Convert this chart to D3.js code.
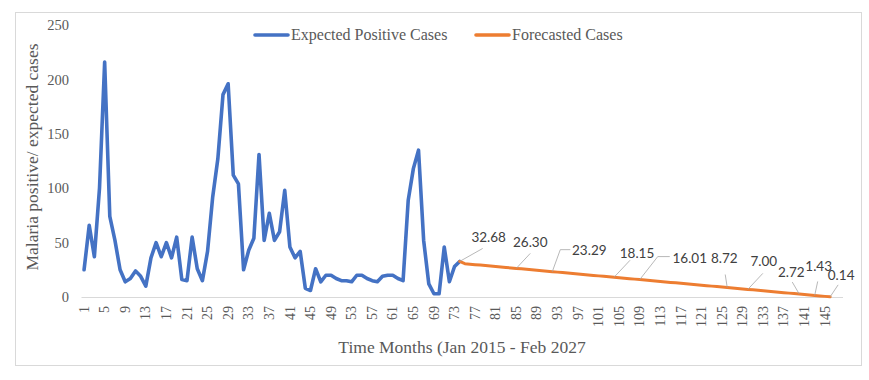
<!DOCTYPE html>
<html>
<head>
<meta charset="utf-8">
<script src="https://cdn.jsdelivr.net/npm/d3@7/dist/d3.min.js"></script>
<style>
  html, body { margin: 0; padding: 0; background: #fff; }
  svg { display: block; }
</style>
</head>
<body>
<svg id="chart" width="869" height="380"></svg>
<script>
// ---- DATA ----
const categories = d3.range(1, 149); // month index categories on the axis
const tickLabels = [1,5,9,13,17,21,25,29,33,37,41,45,49,53,57,61,65,69,73,77,81,85,89,93,97,101,105,109,113,117,121,125,129,133,137,141,145];
const yTicks = [0, 50, 100, 150, 200, 250];

const expectedStart = 1;
const expectedValues = [25,66,37,100,216,74,52,25,14,17,24,19,10,36,50,37,50,36,55,16,
  15,55,26,15,42,92,127,186,196,112,104,25,43,54,131,52,77,52,60,98,
  46,36,42,8,6,26,14,20,20,17,15,15,14,20,20,17,15,14,19,20,
  20,17,15,89,118,135,52,12,3,3,46,14,28,32.68];

const forecastStart = 74;
const forecastValues = [32.68,30.60,30.17,29.74,29.31,28.88,28.45,28.02,27.59,27.16,26.73,26.30,
  25.87,25.44,25.01,24.58,24.15,23.72,23.29,22.86,22.43,22.00,21.57,21.14,20.71,20.28,19.85,
  19.42,18.99,18.56,18.15,17.72,17.29,16.86,16.43,16.01,15.58,15.15,14.72,14.29,13.86,13.43,
  13.00,12.57,12.14,11.71,11.28,10.85,10.42,9.99,9.56,9.13,8.72,8.29,7.86,7.43,7.00,6.57,
  6.14,5.71,5.28,4.85,4.42,3.99,3.56,3.13,2.72,2.29,1.86,1.43,1.00,0.57,0.14];

const labelMonths = [74, 85, 92, 104, 109, 126, 130, 140, 143, 146];

const seriesNames = ["Expected Positive Cases", "Forecasted Cases"];
const xTitle = "Time Months (Jan 2015 - Feb 2027";
const yTitle = "Malaria positive/ expected cases";

// ---- STYLE / LAYOUT ----
const colors = ["#4472C4", "#ED7D31"];
const textColor = "#595959";
const serif = "'Liberation Serif', 'Times New Roman', serif";
const sans = "Lato, 'Liberation Sans', sans-serif";
// label placement offsets (text center relative to point) and leader path offsets
const labelStyle = {
  74:  {dx: 29, dy: -24, leader: [[23, -13]]},
  85:  {dx: 14, dy: -26, leader: [[14, -15]]},
  92:  {dx: 37, dy: -21, leader: [[8, -22], [18, -22]]},
  104: {dx: 23, dy: -24, leader: [[16, -17]]},
  109: {dx: 50, dy: -21, leader: [[18, -23], [30, -23]]},
  126: {dx: -3, dy: -29, leader: [[-2, -13]]},
  130: {dx: 16, dy: -28, leader: [[15, -16]]},
  140: {dx: -8, dy: -22, leader: [[-7, -12]]},
  143: {dx: 4, dy: -29, leader: [[3, -14]]},
  146: {dx: 11, dy: -22, leader: [[8, -12]]}
};

const svg = d3.select("#chart");

// outer chart border
svg.append("rect")
  .attr("x", 15.5).attr("y", 12.5)
  .attr("width", 846).attr("height", 353)
  .attr("fill", "none").attr("stroke", "#d9d9d9").attr("stroke-width", 1);

const x = d3.scaleBand().domain(categories).range([81.5, 843]).paddingInner(0).paddingOuter(0);
const cx = m => x(m) + x.bandwidth() / 2;
const y = d3.scaleLinear().domain([0, 250]).range([297, 25]);

// baseline
svg.append("line")
  .attr("x1", 81.5).attr("x2", 843)
  .attr("y1", y(0) + 0.5).attr("y2", y(0) + 0.5)
  .attr("stroke", "#d9d9d9").attr("stroke-width", 1);

// Y axis
const yAxis = svg.append("g")
  .attr("transform", "translate(69,0)")
  .call(d3.axisLeft(y).tickValues(yTicks).tickSize(0).tickPadding(0));
yAxis.select(".domain").remove();
yAxis.selectAll("text")
  .attr("font-family", serif).attr("font-size", 14.5).attr("fill", textColor);

// X axis
const xAxis = svg.append("g")
  .attr("transform", `translate(0,${y(0)})`)
  .call(d3.axisBottom(x).tickValues(tickLabels).tickSize(0).tickPadding(0));
xAxis.select(".domain").remove();
xAxis.selectAll("text")
  .attr("font-family", serif).attr("font-size", 14).attr("fill", textColor)
  .attr("transform", "rotate(-90)")
  .attr("text-anchor", "end")
  .attr("x", -9).attr("y", 0).attr("dy", "0.33em");

// series
const expected = expectedValues.map((v, i) => ({m: expectedStart + i, v}));
const forecast = forecastValues.map((v, i) => ({m: forecastStart + i, v}));

const line = d3.line().x(d => cx(d.m)).y(d => y(d.v));

svg.append("path").datum(expected)
  .attr("d", line).attr("fill", "none")
  .attr("stroke", colors[0]).attr("stroke-width", 3.6)
  .attr("stroke-linejoin", "round").attr("stroke-linecap", "round");

svg.append("path").datum(forecast)
  .attr("d", line).attr("fill", "none")
  .attr("stroke", colors[1]).attr("stroke-width", 3)
  .attr("stroke-linejoin", "round").attr("stroke-linecap", "round");

// data labels with leader lines
const labelData = labelMonths.map(m => ({m, v: forecastValues[m - forecastStart]}));
const lg = svg.append("g");
labelData.forEach(d => {
  const px = cx(d.m), py = y(d.v);
  const st = labelStyle[d.m];
  const pts = [[px, py]].concat(st.leader.map(o => [px + o[0], py + o[1]]));
  lg.append("path")
    .attr("d", d3.line()(pts))
    .attr("fill", "none").attr("stroke", "#a6a6a6").attr("stroke-width", 0.8);
  lg.append("text")
    .attr("x", px + st.dx).attr("y", py + st.dy)
    .attr("text-anchor", "middle").attr("dy", "0.35em")
    .attr("font-family", sans).attr("font-size", 13.5).attr("fill", "#404040")
    .text(d3.format(".2f")(d.v));
});

// legend
const legendItems = [
  {name: seriesNames[0], color: colors[0], x: 255},
  {name: seriesNames[1], color: colors[1], x: 476}
];
const leg = svg.append("g");
legendItems.forEach(it => {
  leg.append("line")
    .attr("x1", it.x).attr("x2", it.x + 33)
    .attr("y1", 35).attr("y2", 35)
    .attr("stroke", it.color).attr("stroke-width", 3.6).attr("stroke-linecap", "round");
  leg.append("text")
    .attr("x", it.x + 36).attr("y", 35).attr("dy", "0.33em")
    .attr("font-family", serif).attr("font-size", 16).attr("fill", textColor)
    .text(it.name);
});

// axis titles
svg.append("text")
  .attr("x", 462).attr("y", 347).attr("dy", "0.35em")
  .attr("text-anchor", "middle")
  .attr("font-family", serif).attr("font-size", 17.5).attr("fill", textColor)
  .text(xTitle);

svg.append("text")
  .attr("transform", "translate(32,157) rotate(-90)")
  .attr("text-anchor", "middle").attr("dy", "0.35em")
  .attr("font-family", serif).attr("font-size", 17.5).attr("fill", textColor)
  .text(yTitle);
</script>
</body>
</html>
